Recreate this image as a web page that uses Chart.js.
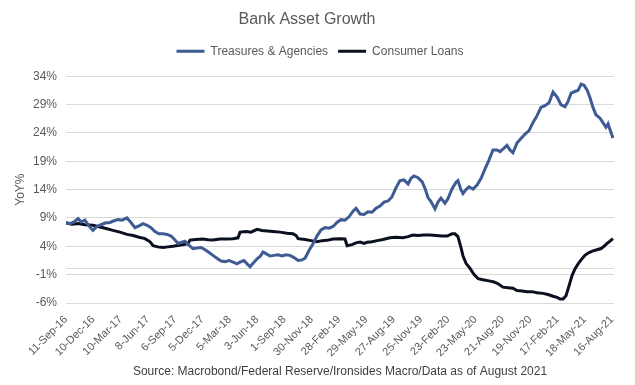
<!DOCTYPE html>
<html>
<head>
<meta charset="utf-8">
<script src="https://cdn.jsdelivr.net/npm/chart.js@4/dist/chart.umd.min.js"></script>
<style>
  html, body { margin: 0; padding: 0; background: #ffffff; }
  #wrap { width: 635px; height: 385px; position: relative; }
</style>
</head>
<body>
<div id="wrap"><canvas id="c" width="635" height="385"></canvas></div>
<script>
// ---- Data (x = weeks since 11-Sep-2016, y = YoY %) ----
const startDate = Date.UTC(2016, 8, 11);
const tickStepDays = 90;
const tickCount = 21;
const yTicks = [-6, -1, 4, 9, 14, 19, 24, 29, 34];

const treasuryWeeks = [0,1.9,3.8,5.7,7.1,8.9,10.8,12.7,14.6,16.5,18.4,20.7,22.6,24.5,26.4,28.7,30.6,32.5,34.4,36.3,38.2,40.0,41.9,43.8,45.7,47.6,49.5,50.9,52.8,54.2,56.0,57.9,59.8,61.7,63.6,65.5,67.4,69.2,71.1,73.0,74.9,76.8,78.7,80.5,82.4,83.8,85.3,86.7,88.1,90.0,91.4,92.8,94.2,96.1,98.0,99.9,101.7,103.6,105.5,107.4,109.3,111.2,112.6,114.5,116.3,118.2,120.1,122.0,123.9,125.8,127.6,129.5,131.4,133.3,135.2,136.6,138.5,140.4,142.2,144.1,146.0,147.9,149.8,151.7,153.5,155.4,157.3,159.2,161.1,162.5,163.9,165.8,167.7,169.1,170.5,171.9,173.8,175.2,176.6,178.5,179.9,181.8,183.7,184.6,186.0,187.0,188.4,189.8,191.7,193.6,195.5,197.3,199.2,201.1,203.0,204.4,206.3,207.7,209.1,210.5,212.4,214.3,216.2,218.1,219.9,221.8,223.7,225.6,227.5,229.4,231.3,233.1,235.0,236.4,237.9,239.7,241.2,242.6,244.0,245.4,246.8,248.2,249.6,251.5,252.9,254.3,255.3,256.2,257.6];
const treasuryValues = [8.2,8.0,8.3,8.9,8.3,8.6,7.6,6.8,7.5,7.8,8.1,8.2,8.5,8.7,8.6,9.0,8.2,7.3,7.6,8.0,7.7,7.3,6.6,6.2,6.2,6.1,5.8,5.3,4.5,4.7,4.9,4.2,3.6,3.7,3.8,3.4,2.9,2.4,1.9,1.4,1.3,1.5,1.2,0.9,1.3,1.5,0.9,0.4,1.0,1.8,2.2,3.0,2.7,2.3,2.4,2.5,2.3,2.5,2.4,2.0,1.5,1.6,1.9,3.3,4.4,5.8,6.9,7.3,7.2,7.5,8.2,8.7,8.6,9.2,10.2,10.7,9.7,9.6,10.1,10.0,10.7,11.1,11.8,12.0,12.7,14.3,15.6,15.7,15.0,16.0,16.4,16.1,15.4,14.2,12.6,11.9,10.6,11.8,12.5,11.6,12.4,14.1,15.3,15.6,14.0,13.3,14.0,14.5,14.1,14.8,16.0,17.6,19.2,21.0,21.0,20.7,21.3,21.8,21.0,20.5,22.2,23.0,23.8,24.4,25.8,27.0,28.5,28.8,29.3,31.2,30.3,29.0,28.6,29.5,31.0,31.3,31.5,32.6,32.4,31.6,30.2,28.5,27.2,26.6,25.8,25.0,25.6,24.6,23.1];

const loanWeeks = [0,2.8,5.7,8.9,12.7,16.0,19.3,22.1,25.4,28.7,31.6,34.4,37.2,39.6,41.0,43.3,45.7,48.0,50.4,53.2,55.6,57.5,58.4,61.2,64.5,66.9,69.2,72.5,75.8,78.7,81.0,82.0,84.8,87.1,90.0,92.3,94.7,97.5,100.8,104.1,106.9,108.4,109.3,112.6,115.4,118.2,120.6,122.9,125.8,129.1,131.4,132.4,134.7,136.6,138.5,140.4,141.8,144.1,146.5,149.3,152.6,155.4,158.7,161.1,163.4,165.8,168.6,171.4,174.3,177.1,179.5,181.8,183.2,184.6,186.0,187.0,188.4,190.3,192.2,194.1,196.4,199.2,201.6,203.5,205.8,208.2,210.5,212.4,214.8,217.1,219.5,221.8,224.7,227.0,229.4,231.3,232.7,234.1,235.5,236.9,238.3,239.7,241.2,242.6,244.4,246.3,248.2,250.1,252.0,253.4,254.8,256.2,257.6];
const loanValues = [8.1,7.9,8.0,7.8,7.7,7.4,7.1,6.8,6.5,6.1,5.9,5.6,5.35,4.8,4.1,3.9,3.8,3.9,4.0,4.2,4.3,4.5,5.1,5.2,5.3,5.15,5.1,5.3,5.3,5.35,5.5,6.5,6.6,6.5,7.0,6.8,6.7,6.6,6.5,6.3,6.2,5.9,5.35,5.2,5.0,4.8,5.0,5.05,5.3,5.35,5.3,4.1,4.3,4.6,4.75,4.5,4.7,4.8,5.0,5.2,5.5,5.6,5.5,5.7,6.0,5.9,6.0,6.0,5.9,5.8,5.8,6.2,6.2,5.7,3.8,2.3,1.0,0.1,-1.0,-1.7,-1.9,-2.1,-2.3,-2.6,-3.2,-3.3,-3.4,-3.8,-3.9,-4.0,-4.0,-4.2,-4.3,-4.5,-4.8,-5.0,-5.3,-5.3,-4.7,-3.0,-1.2,0.0,0.9,1.6,2.4,2.9,3.2,3.4,3.6,4.0,4.5,4.9,5.35];

const seriesNames = ['Treasures & Agencies', 'Consumer Loans'];
const seriesColors = ['#3E5B94', '#0B1020'];
const xMaxWeeks = 258.1;

const MONTHS = ['Jan','Feb','Mar','Apr','May','Jun','Jul','Aug','Sep','Oct','Nov','Dec'];
function fmtDate(weeks) {
  const d = new Date(startDate + Math.round(weeks * 7) * 86400000);
  return d.getUTCDate() + '-' + MONTHS[d.getUTCMonth()] + '-' + String(d.getUTCFullYear()).slice(2);
}

const FONT = "'Liberation Sans', Arial, sans-serif";
const TXT = '#595959';

const sourcePlugin = {
  id: 'sourceText',
  afterDraw(chart) {
    const ctx = chart.ctx;
    const a = chart.chartArea;
    ctx.save();
    ctx.font = '12px ' + FONT;
    ctx.fillStyle = '#404040';
    ctx.textAlign = 'center';
    ctx.textBaseline = 'middle';
    ctx.fillText('Source: Macrobond/Federal Reserve/Ironsides Macro/Data as of August 2021', (a.left + a.right) / 2, 372);
    ctx.restore();
  }
};

// Adds extra space below the legend and nudges it to the right.
const legendSpacer = {
  id: 'legendSpacer',
  beforeLayout(chart) {
    const lg = chart.legend;
    if (!lg || lg._patched) return;
    lg._patched = true;
    const fit = lg.fit;
    lg.fit = function () { fit.call(this); this.height += 9; };
    const draw = lg.draw;
    lg.draw = function () {
      const ctx = this.ctx;
      ctx.save();
      ctx.translate(13, 0);
      draw.call(this);
      ctx.restore();
    };
  }
};

new Chart(document.getElementById('c'), {
  type: 'line',
  data: {
    datasets: [
      {
        label: seriesNames[0],
        data: treasuryWeeks.map((w, i) => ({ x: w, y: treasuryValues[i] })),
        borderColor: seriesColors[0],
        backgroundColor: seriesColors[0],
        borderWidth: 3,
        pointRadius: 0,
        tension: 0
      },
      {
        label: seriesNames[1],
        data: loanWeeks.map((w, i) => ({ x: w, y: loanValues[i] })),
        borderColor: seriesColors[1],
        backgroundColor: seriesColors[1],
        borderWidth: 3,
        pointRadius: 0,
        tension: 0
      }
    ]
  },
  options: {
    responsive: false,
    animation: false,
    layout: { padding: { left: 0, right: 21, top: 4, bottom: 0 } },
    plugins: {
      title: {
        display: true,
        text: 'Bank Asset Growth',
        color: TXT,
        font: { family: FONT, size: 16, weight: 'normal' },
        padding: { top: 6, bottom: 6 }
      },
      legend: {
        display: true,
        labels: {
          color: TXT,
          font: { family: FONT, size: 12 },
          boxWidth: 28,
          boxHeight: 3,
          padding: 10,
          generateLabels(chart) {
            return chart.data.datasets.map((ds, i) => ({
              text: ds.label,
              fillStyle: ds.borderColor,
              strokeStyle: ds.borderColor,
              lineWidth: 0,
              fontColor: TXT,
              datasetIndex: i
            }));
          }
        }
      },
      tooltip: { enabled: false }
    },
    scales: {
      x: {
        type: 'linear',
        min: 0,
        max: xMaxWeeks,
        grid: { display: false },
        border: { display: false },
        afterBuildTicks(scale) {
          const t = [];
          for (let i = 0; i < tickCount; i++) t.push({ value: i * tickStepDays / 7 });
          scale.ticks = t;
        },
        afterFit(scale) { scale.height = 82; },
        ticks: {
          autoSkip: false,
          maxRotation: 45,
          minRotation: 45,
          color: TXT,
          font: { family: FONT, size: 11 },
          padding: 2,
          callback: (v) => fmtDate(v)
        }
      },
      y: {
        min: -6,
        max: 34,
        grid: { color: '#D9D9D9', lineWidth: 1, drawTicks: false },
        border: { display: false },
        afterBuildTicks(scale) {
          scale.ticks = yTicks.concat([0]).sort((a, b) => a - b).map(v => ({ value: v }));
        },
        afterFit(scale) { scale.width = 66; },
        title: {
          display: true,
          text: 'YoY%',
          color: TXT,
          font: { family: FONT, size: 12 },
          padding: { top: 13, bottom: 0 }
        },
        ticks: {
          color: TXT,
          font: { family: FONT, size: 12 },
          padding: 9,
          callback: (v) => (yTicks.includes(v) ? v + '%' : '')
        }
      }
    }
  },
  plugins: [sourcePlugin, legendSpacer]
});
</script>
</body>
</html>
